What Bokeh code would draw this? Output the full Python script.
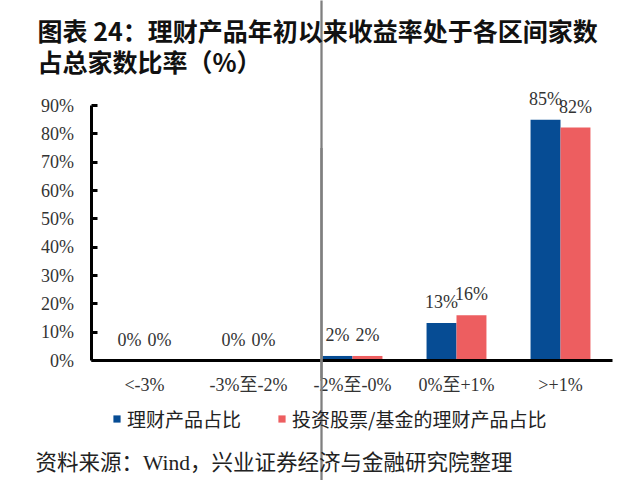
from bokeh.plotting import figure
from bokeh.models import (ColumnDataSource, Range1d, LabelSet, Label,
                          Legend, LegendItem, PrintfTickFormatter, FixedTicker)
from bokeh.transform import dodge
from bokeh.embed import file_html
from bokeh.resources import INLINE

# ---- data ----
categories = ["<-3%", "-3%至-2%", "-2%至-0%", "0%至+1%", ">+1%"]
series_names = ["理财产品占比", "投资股票/基金的理财产品占比"]
share_all = [0, 0, 1.6, 13.2, 85.0]
share_equity = [0, 0, 1.6, 16.0, 82.2]
y_ticks = [0, 10, 20, 30, 40, 50, 60, 70, 80, 90]
title_line1 = "图表 24：理财产品年初以来收益率处于各区间家数"
title_line2 = "占总家数比率（%）"
source_text = "资料来源：Wind，兴业证券经济与金融研究院整理"

BLUE = "#064C94"
RED = "#ED5E60"
RULE = "#7F7F7F"
SERIF = "'Liberation Serif', 'Noto Sans CJK SC'"
CJK = "'Noto Sans CJK SC'"

W, H = 624, 480
# layout of the plotting area in canvas pixels
AX_L, CAT_W = 92.0, 104.0      # left edge of first category, px per category
AX_B, PX_PER = 360.0, 255.0 / 90.0   # baseline y (px from top), px per percent


def ux(px):
    return (px - AX_L) / CAT_W


def uy(py):
    return (AX_B - py) / PX_PER


pos = [i + 0.5 for i in range(len(categories))]
src = ColumnDataSource(dict(
    pos=pos,
    a=share_all,
    b=share_equity,
    a_lbl=[f"{round(v)}%" for v in share_all],
    b_lbl=[f"{round(v)}%" for v in share_equity],
))

p = figure(width=W, height=H, x_range=Range1d(ux(0), ux(W)), y_range=Range1d(uy(H), uy(0)),
           output_backend="svg", toolbar_location=None, min_border=0)
p.outline_line_color = None
p.xgrid.visible = False
p.ygrid.visible = False

bw = 0.288
r1 = p.vbar(x=dodge("pos", -bw / 2), top="a", width=bw, source=src,
            fill_color=BLUE, line_color=None)
r2 = p.vbar(x=dodge("pos", bw / 2), top="b", width=bw, source=src,
            fill_color=RED, line_color=None)

for col, lbl, off in (("a", "a_lbl", -bw / 2), ("b", "b_lbl", bw / 2)):
    p.add_layout(LabelSet(x=dodge("pos", off), y=col, text=lbl, source=src,
                          text_align="center", text_baseline="alphabetic", y_offset=15,
                          text_font=SERIF, text_font_size="18px", text_color="#333333"))

# axes placed inside the canvas at the data origin
y_axis_x = ux(90.5)
yax = p.yaxis[0]
yax.fixed_location = y_axis_x
yax.ticker = FixedTicker(ticks=y_ticks)
yax.bounds = (0, 90)
yax.formatter = PrintfTickFormatter(format="%d%%")
yax.axis_line_color = "black"
yax.axis_line_width = 3
yax.major_tick_in = 6
yax.major_tick_out = 0
yax.major_tick_line_width = 3
yax.major_tick_line_color = "black"
yax.minor_tick_line_color = None
yax.major_label_standoff = 17
yax.major_label_text_font = SERIF
yax.major_label_text_font_size = "18px"
yax.major_label_text_color = "#333333"

xax = p.xaxis[0]
xax.fixed_location = 0
xax.ticker = FixedTicker(ticks=pos)
xax.major_label_overrides = {x: c for x, c in zip(pos, categories)}
xax.bounds = (y_axis_x, len(categories))
xax.axis_line_color = "black"
xax.axis_line_width = 3
xax.major_tick_line_color = None
xax.minor_tick_line_color = None
xax.major_label_standoff = 8
xax.major_label_text_font = SERIF
xax.major_label_text_font_size = "18px"
xax.major_label_text_color = "#333333"

legend = Legend(items=[LegendItem(label=series_names[0], renderers=[r1]),
                       LegendItem(label=series_names[1], renderers=[r2])],
                orientation="horizontal", location=(112, 48),
                glyph_width=9, glyph_height=9, label_standoff=6, spacing=36,
                padding=0, margin=0, border_line_color=None, background_fill_alpha=0,
                label_text_font=CJK, label_text_font_size="19px", label_text_color="#222222",
                label_height=20)
p.add_layout(legend, "center")

# horizontal rules (under the title, above the source note):
# a blank label whose filled background box forms a thin grey bar
RULE_L, RULE_R = 22, 620
for rule_px in (78, 447):
    p.add_layout(Label(x=ux((RULE_L + RULE_R) / 2), y=uy(rule_px), text=" ",
                       text_font_size="1px", text_align="center", text_baseline="middle",
                       background_fill_color=RULE, background_fill_alpha=1.0,
                       padding=(1, (RULE_R - RULE_L) // 2)))

# title and source note
p.add_layout(Label(x=ux(37), y=uy(29), text=title_line1, text_font=CJK, text_font_style="bold",
                   text_font_size="25px", text_color="#111111", text_baseline="middle"))
p.add_layout(Label(x=ux(37), y=uy(60), text=title_line2, text_font=CJK, text_font_style="bold",
                   text_font_size="25px", text_color="#111111", text_baseline="middle"))
p.add_layout(Label(x=ux(35), y=uy(462), text=source_text, text_font=SERIF,
                   text_font_size="21.5px", text_color="#222222", text_baseline="middle"))

open("out.html", "w").write(file_html(p, INLINE))
